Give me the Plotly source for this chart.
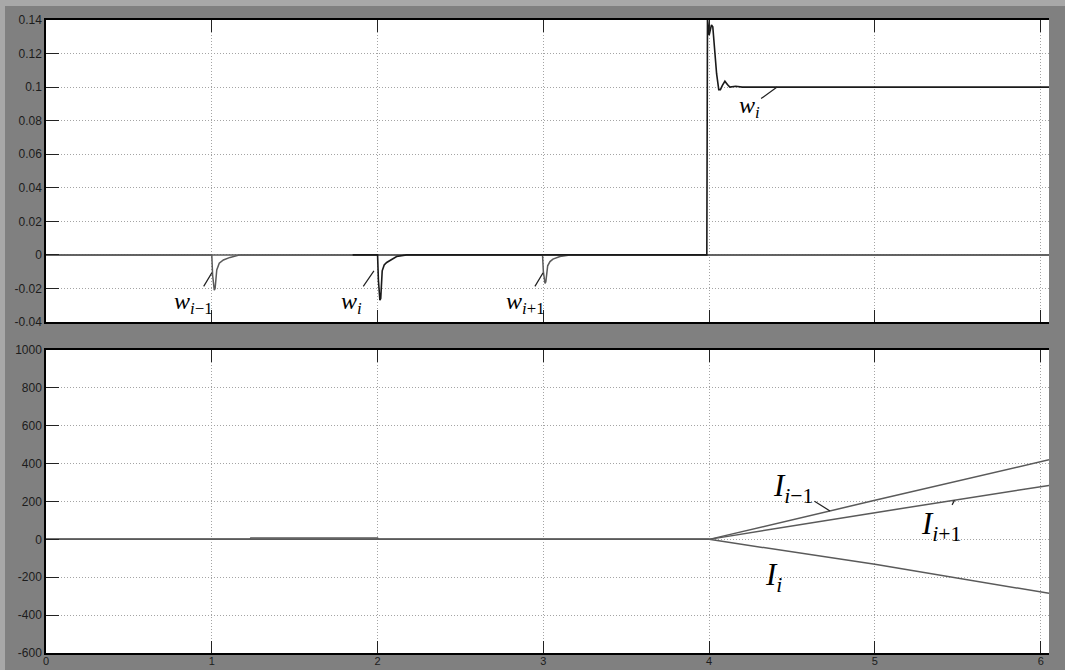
import plotly.graph_objects as go

# ---------------- data ----------------
x_ticks = [0, 1, 2, 3, 4, 5, 6]
x_tick_labels = ["0", "1", "2", "3", "4", "5", "6"]

w_ticks = [-0.04, -0.02, 0, 0.02, 0.04, 0.06, 0.08, 0.1, 0.12, 0.14]
w_tick_labels = ["-0.04", "-0.02", "0", "0.02", "0.04", "0.06", "0.08", "0.1", "0.12", "0.14"]

I_ticks = [-600, -400, -200, 0, 200, 400, 600, 800, 1000]
I_tick_labels = ["-600", "-400", "-200", "0", "200", "400", "600", "800", "1000"]

# top panel: w_{i-1}
t_w_im1 = [0, 1.0, 1.005, 1.015, 1.02, 1.03, 1.045, 1.07, 1.11, 1.17, 6.05]
w_im1 = [0, 0, -0.012, -0.021, -0.02, -0.009, -0.005, -0.003, -0.0015, 0, 0]

# top panel: w_{i+1}
t_w_ip1 = [0, 2.995, 3.0, 3.01, 3.015, 3.026, 3.04, 3.058, 3.1, 3.16, 6.05]
w_ip1 = [0, 0, -0.01, -0.017, -0.016, -0.0065, -0.004, -0.0025, -0.001, 0, 0]

# top panel: w_i
t_w_i = [1.85, 2.0, 2.005, 2.014, 2.019, 2.028, 2.04, 2.055, 2.115, 2.175,
         3.986, 3.99, 4.0, 4.014, 4.022, 4.032, 4.045, 4.058, 4.068, 4.08,
         4.095, 4.11, 4.125, 4.16, 4.2, 6.05]
w_i = [0, 0, -0.015, -0.027, -0.026, -0.0095, -0.006, -0.0045, -0.001, 0,
       0, 0.141, 0.131, 0.137, 0.136, 0.124, 0.108, 0.0985, 0.0985, 0.101,
       0.1035, 0.1015, 0.1, 0.1005, 0.1, 0.1]

# bottom panel: integrals I
t_I_im1 = [0, 1.23, 1.235, 2.0, 2.005, 4.0, 5.0, 6.05]
I_im1 = [0, 0, 7, 7, 0, 0, 206, 420]
t_I_i = [0, 4.0, 5.0, 6.05]
I_i = [0, 0, -132, -285]
t_I_ip1 = [0, 4.0, 5.0, 6.05]
I_ip1 = [0, 0, 141, 285]

# ---------------- figure ----------------
fig = go.Figure()
line_grey = dict(color="#5a5a5a", width=1.5)
line_dark = dict(color="#1a1a1a", width=1.6)

fig.add_trace(go.Scatter(x=t_w_im1, y=w_im1, mode="lines", line=line_grey, xaxis="x", yaxis="y"))
fig.add_trace(go.Scatter(x=t_w_ip1, y=w_ip1, mode="lines", line=line_grey, xaxis="x", yaxis="y"))
fig.add_trace(go.Scatter(x=t_w_i, y=w_i, mode="lines", line=line_dark, xaxis="x", yaxis="y"))

fig.add_trace(go.Scatter(x=t_I_im1, y=I_im1, mode="lines", line=line_grey, xaxis="x2", yaxis="y2"))
fig.add_trace(go.Scatter(x=t_I_i, y=I_i, mode="lines", line=line_grey, xaxis="x2", yaxis="y2"))
fig.add_trace(go.Scatter(x=t_I_ip1, y=I_ip1, mode="lines", line=line_grey, xaxis="x2", yaxis="y2"))

tickfont = dict(family="Liberation Sans, Arial, sans-serif", size=12, color="#1c1c1c")
xtickfont = dict(family="Liberation Sans, Arial, sans-serif", size=11, color="#1c1c1c")
grid = dict(showgrid=True, gridcolor="#a4a4a4", griddash="1px,2px", gridwidth=1)

common_x = dict(range=[0, 6.05], tickvals=x_ticks, ticks="inside", ticklen=12,
                tickcolor="#222", tickwidth=1, showline=True, linecolor="black",
                linewidth=1.5, mirror="ticks", zeroline=False, tickfont=xtickfont,
                automargin=False, **grid)
common_y = dict(ticks="inside", ticklen=13, tickcolor="#222", tickwidth=1,
                showline=True, linecolor="black", linewidth=1.5, mirror=False,
                zeroline=False, tickfont=tickfont, automargin=False, **grid)

fig.update_layout(
    width=1065, height=670,
    margin=dict(l=46, r=16, t=20, b=17, autoexpand=False),
    paper_bgcolor="#808080", plot_bgcolor="white",
    showlegend=False,
    xaxis=dict(domain=[0, 1], anchor="y", showticklabels=False, **common_x),
    yaxis=dict(domain=[0.5229, 1], anchor="x", range=[-0.04, 0.14],
               tickvals=w_ticks, ticktext=w_tick_labels, **common_y),
    xaxis2=dict(domain=[0, 1], anchor="y2", ticktext=x_tick_labels,
                ticklabelstandoff=-3, **common_x),
    yaxis2=dict(domain=[0, 0.4787], anchor="x2", range=[-600, 1000],
                tickvals=I_ticks, ticktext=I_tick_labels, **common_y),
)

# light frame strips at the left and top of the window
fig.add_shape(type="rect", xref="paper", yref="paper", x0=-46/1003, x1=-41/1003,
              y0=-17/633, y1=1 + 20/633, fillcolor="#a8a8a8", line_width=0, layer="below")
fig.add_shape(type="rect", xref="paper", yref="paper", x0=-46/1003, x1=1 + 16/1003,
              y0=1 + 14/633, y1=1 + 20/633, fillcolor="#a8a8a8", line_width=0, layer="below")

# ---------------- labels ----------------
wfont = dict(family="Liberation Serif, Times New Roman, serif", size=24, color="#000")
Ifont = dict(family="Liberation Serif, Times New Roman, serif", size=31, color="#000")
arrow = dict(showarrow=True, arrowhead=0, arrowwidth=1.2, arrowcolor="#222")

labels = [
    ("<i>w</i><sub><i>i</i>−1</sub>", "x", "y", 1.0, -0.0107, -18, 30, wfont),
    ("<i>w</i><sub><i>i</i></sub>", "x", "y", 1.978, -0.0095, -22, 32, wfont),
    ("<i>w</i><sub><i>i</i>+1</sub>", "x", "y", 2.998, -0.0107, -18, 30, wfont),
    ("<i>w</i><sub><i>i</i></sub>", "x", "y", 4.41, 0.1, -28, 20, wfont),
    ("<i>I</i><sub><i>i</i>−1</sub>", "x2", "y2", 4.729, 150, -37, -23, Ifont),
    ("<i>I</i><sub><i>i</i>+1</sub>", "x2", "y2", 5.48, 206, -14, 26, Ifont),
]
for text, xr, yr, xv, yv, ax, ay, fnt in labels:
    fig.add_annotation(text=text, xref=xr, yref=yr, x=xv, y=yv, ax=ax, ay=ay,
                       font=fnt, **arrow)

fig.add_annotation(text="<i>I</i><sub><i>i</i></sub>", xref="x2", yref="y2",
                   x=4.39, y=-199, showarrow=False, font=Ifont)

fig.write_html(
    "out.html",
    config={"displayModeBar": False},
    post_script="document.body.style.margin='0';document.body.style.overflow='hidden';"
                "document.body.style.background='#808080';",
)
